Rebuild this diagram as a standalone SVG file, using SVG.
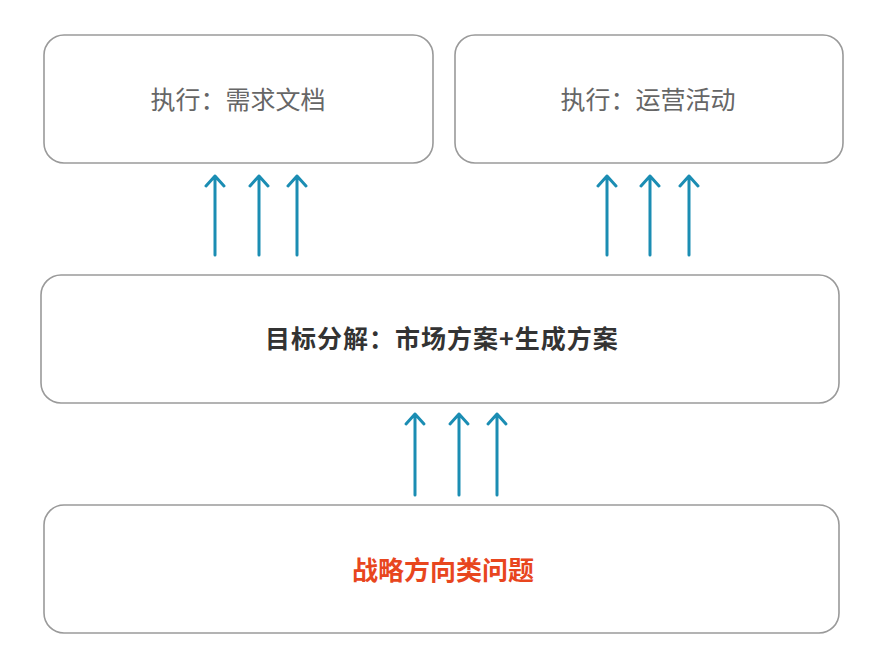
<svg xmlns="http://www.w3.org/2000/svg" width="890" height="670" viewBox="0 0 890 670">
<style>
.box{fill:#fff;stroke:#9a9a9a;stroke-width:1.6}
.t{font-family:"Noto Sans CJK SC","Noto Sans",sans-serif;text-anchor:middle;dominant-baseline:central}
.arr{stroke:#1b8db3;stroke-width:3;fill:none;stroke-linecap:round;stroke-linejoin:round}
</style>
<rect width="890" height="670" fill="#fff"/>
<g id="node-doc"><rect class="box" x="44" y="35" width="389" height="128" rx="20"/><text class="t" x="238" y="98" font-size="25" fill="#666">执行：需求文档</text></g>
<g id="node-ops"><rect class="box" x="455" y="35" width="388" height="128" rx="20"/><text class="t" x="648" y="98" font-size="25" fill="#666">执行：运营活动</text></g>
<g id="node-goal"><rect class="box" x="41" y="275" width="798" height="128" rx="20"/><text class="t" x="442" y="337" font-size="25" font-weight="bold" fill="#333" letter-spacing="1">目标分解：市场方案+生成方案</text></g>
<g id="node-strategy"><rect class="box" x="44" y="505" width="795" height="128" rx="20"/><text class="t" x="443" y="568" font-size="26" font-weight="bold" fill="#e8461e">战略方向类问题</text></g>
<g id="connectors" class="arr">
<path d="M215 255V176M206 186L215 176L224 186"/>
<path d="M259 255V176M250 186L259 176L268 186"/>
<path d="M297 255V176M288 186L297 176L306 186"/>
<path d="M607 255V176M598 186L607 176L616 186"/>
<path d="M650 255V176M641 186L650 176L659 186"/>
<path d="M689 255V176M680 186L689 176L698 186"/>
<path d="M415 495V414M406 424L415 414L424 424"/>
<path d="M459 495V414M450 424L459 414L468 424"/>
<path d="M497 495V414M488 424L497 414L506 424"/>
</g>
</svg>
